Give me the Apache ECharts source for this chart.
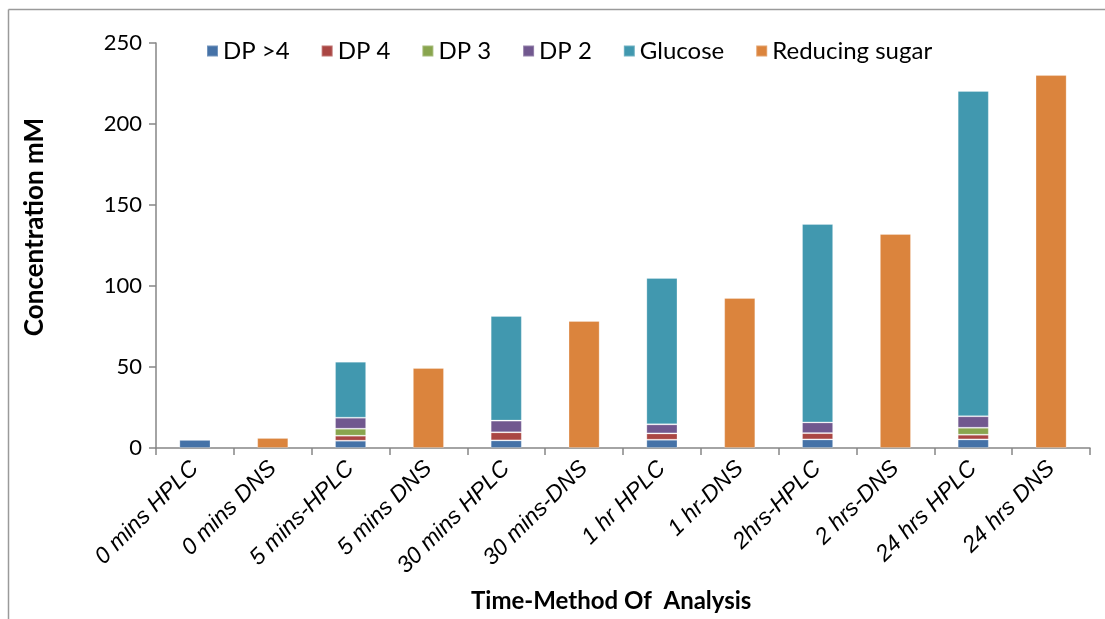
<!DOCTYPE html>
<html>
<head>
<meta charset="utf-8">
<script src="https://cdn.jsdelivr.net/npm/echarts@6/dist/echarts.min.js"></script>
<style>html,body{margin:0;padding:0;background:#fff}#c{width:1105px;height:619px}</style>
</head>
<body>
<div id="c"></div>
<script>
const categories = ['0 mins HPLC','0 mins DNS','5 mins-HPLC','5 mins DNS','30 mins HPLC','30 mins-DNS','1 hr HPLC','1 hr-DNS','2hrs-HPLC','2 hrs-DNS','24 hrs HPLC','24 hrs DNS'];
const seriesNames = ['DP >4','DP 4','DP 3','DP 2','Glucose','Reducing sugar'];
const dpGt4   = [5.0, '-', 4.5, '-', 4.7, '-', 5.1, '-', 5.3, '-', 5.3, '-'];
const dp4     = ['-', '-', 3.1, '-', 5.0, '-', 3.9, '-', 3.9, '-', 2.9, '-'];
const dp3     = ['-', '-', 4.3, '-', 0, '-', 0, '-', 0, '-', 4.3, '-'];
const dp2     = ['-', '-', 6.8, '-', 7.2, '-', 5.6, '-', 6.6, '-', 7.1, '-'];
const glucose = ['-', '-', 34.6, '-', 64.6, '-', 90.4, '-', 122.5, '-', 200.8, '-'];
const reducingSugar = ['-', 6.2, '-', 49.4, '-', 78.4, '-', 92.6, '-', 132.1, '-', 230.2];
const yTicks = [0, 50, 100, 150, 200, 250];

const colors = ['#4572A7','#AA4643','#89A54E','#71588F','#4198AF','#DB843D'];
const FONT = 'Lato, "Liberation Sans", sans-serif';
const IFONT = '"Liberation Sans", sans-serif';
const allData = [dpGt4, dp4, dp3, dp2, glucose, reducingSugar];

const chart = echarts.init(document.getElementById('c'), null, {renderer: 'canvas'});
chart.setOption({
  animation: false,
  color: colors,
  grid: {left: 156, right: 15, top: 43, bottom: 171, containLabel: false},
  legend: {
    top: 34, left: 201, itemWidth: 11, itemHeight: 11, itemGap: 31,
    icon: 'rect',
    textStyle: {fontFamily: FONT, fontSize: 24, color: '#000'},
    data: seriesNames
  },
  xAxis: {
    type: 'category', data: categories,
    axisLine: {lineStyle: {color: '#868686', width: 1.5}},
    axisTick: {show: true, alignWithLabel: false, length: 7, lineStyle: {color: '#868686', width: 1.5}},
    axisLabel: {rotate: 45, interval: 0, fontFamily: IFONT, fontStyle: 'italic', fontSize: 23, color: '#000', margin: 17}
  },
  yAxis: {
    type: 'value', min: yTicks[0], max: yTicks[yTicks.length-1], interval: 50,
    axisLine: {show: true, lineStyle: {color: '#868686', width: 1.5}},
    axisTick: {show: true, length: 7, lineStyle: {color: '#868686', width: 1.5}},
    splitLine: {show: false},
    axisLabel: {fontFamily: FONT, fontSize: 22, color: '#000', margin: 14}
  },
  graphic: [
    {type: 'line', shape: {x1: 8.5, y1: 9.5, x2: 8.5, y2: 619}, style: {stroke: '#9a9a9a', lineWidth: 1.5}},
    {type: 'line', shape: {x1: 8.5, y1: 9.5, x2: 1105, y2: 9.5}, style: {stroke: '#9a9a9a', lineWidth: 1.5}},
    {type: 'text', left: 22, top: 118, rotation: Math.PI/2, style: {text: 'Concentration mM', font: 'bold 26px ' + FONT, fill: '#000'}},
    {type: 'text', left: 471, top: 589, style: {text: 'Time-Method Of  Analysis', font: 'bold 24px ' + FONT, fill: '#000'}}
  ],
  series: seriesNames.map((n, i) => ({
    name: n, type: 'bar', stack: 'total', barWidth: '40%',
    itemStyle: {color: colors[i], borderColor: 'rgba(255,255,255,0.25)', borderWidth: 1},
    data: allData[i]
  }))
});
</script>
</body>
</html>
